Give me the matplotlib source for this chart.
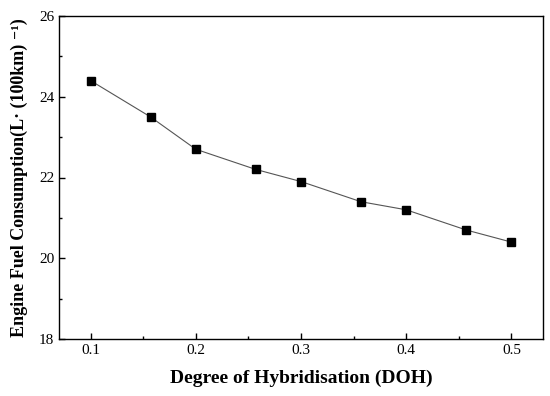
import matplotlib.pyplot as plt
from matplotlib.ticker import MultipleLocator

plt.rcParams['font.family'] = ['Liberation Serif', 'DejaVu Serif']

doh = [0.1, 0.157, 0.2, 0.257, 0.3, 0.357, 0.4, 0.457, 0.5]
fuel = [24.4, 23.5, 22.7, 22.2, 21.9, 21.4, 21.2, 20.7, 20.4]

fig = plt.figure(figsize=(5.5, 3.96), dpi=100)
ax = fig.add_axes([59/550, 1-339/396, (543-59)/550, (339-16)/396])

ax.plot(doh, fuel, color='#555555', lw=0.8, marker='s', ms=5.5,
        mfc='black', mec='black')

ax.set_xlim(0.07, 0.53)
ax.set_ylim(18, 26)
ax.xaxis.set_major_locator(MultipleLocator(0.1))
ax.xaxis.set_minor_locator(MultipleLocator(0.05))
ax.yaxis.set_major_locator(MultipleLocator(2))
ax.yaxis.set_minor_locator(MultipleLocator(1))
ax.tick_params(which='both', direction='in', labelsize=11, width=1)
ax.tick_params(which='major', length=4)
ax.tick_params(which='minor', length=2.5)
for s in ax.spines.values():
    s.set_linewidth(1)

ax.set_xlabel('Degree of Hybridisation (DOH)', fontsize=14, fontweight='bold', labelpad=9)
ax.set_ylabel('Engine Fuel Consumption(L\u00b7 (100km) \u207b\u00b9)',
              fontsize=13, fontweight='bold', labelpad=8)

fig.savefig('out.png', dpi=100)
